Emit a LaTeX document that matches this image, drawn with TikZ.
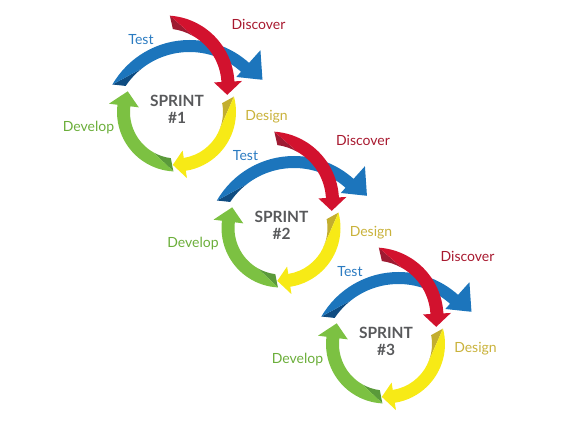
\documentclass[tikz,border=0pt]{standalone}
\usepackage{fontspec}
\setmainfont{Lato}
\usepackage{xcolor}
\usetikzlibrary{positioning}

\definecolor{testblue}{HTML}{1C75BC}
\definecolor{testdark}{HTML}{0F4C81}
\definecolor{discred}{HTML}{D2122E}
\definecolor{discdark}{HTML}{9E1B32}
\definecolor{desyellow}{HTML}{F7EA16}
\definecolor{desdark}{HTML}{C3AE2E}
\definecolor{devgreen}{HTML}{7CC142}
\definecolor{devdark}{HTML}{5A9A3A}
\definecolor{testtext}{HTML}{2B7BC1}
\definecolor{disctext}{HTML}{A8192F}
\definecolor{destext}{HTML}{C9B23B}
\definecolor{devtext}{HTML}{6BAE3A}
\definecolor{sprintgray}{HTML}{58595B}

% ribbon arrow, runs clockwise round the origin
% #1 colour, #2 fold colour, #3 radius, #4 width, #5 tail angle,
% #6 fold angle, #7 head base angle, #8 tip angle, #9 head half width
% \hShift pushes the head outwards
\def\hShift{0}
\newcommand\ribbonarrow[9]{%
  \pgfmathsetmacro\rOut{#3+#4/2}%
  \pgfmathsetmacro\rIn{#3-#4/2}%
  \pgfmathsetmacro\hOut{#3+#9+\hShift}%
  \pgfmathsetmacro\hIn{#3-#9+\hShift}%
  \pgfmathsetmacro\hMid{#3+\hShift}%
  \pgfmathsetmacro\aEnd{#5-4}%
  \fill[#2] (#6:\rIn) arc[start angle=#6, end angle=\aEnd, radius=\rIn] -- (#5:\rOut) -- cycle;
  \fill[#1] (#5:\rOut) arc[start angle=#5, end angle=#7, radius=\rOut]
    -- (#7:\hOut) -- (#8:\hMid) -- (#7:\hIn) -- (#7:\rIn)
    arc[start angle=#7, end angle=#6, radius=\rIn] -- cycle;
}

\begin{document}
\begin{tikzpicture}[x=1pt, y=1pt]
	% Styles
	\tikzstyle{phase} = [inner sep=0pt, font=\fontsize{14}{16}\selectfont]
	\tikzstyle{sprinttext} = [inner sep=0pt, align=center, text=sprintgray, font=\bfseries\fontsize{15.5}{17}\selectfont]

	\useasboundingbox (0,0) rectangle (571,421);

	\foreach \s in {1,2,3} {
		\pgfmathsetmacro\cx{176.5+104.5*(\s-1)}
		\pgfmathsetmacro\cy{309-116*(\s-1)}
		\begin{scope}[shift={(\cx,\cy)}]
			% Arrows
			\ribbonarrow{devgreen}{devdark}{53}{13}{267}{240}{173}{157}{15}
			\ribbonarrow{desyellow}{desdark}{53}{13}{15}{-25}{-81}{-94}{14}
			\begin{scope}[shift={(13,-17)}]
				\def\hShift{5}
				\ribbonarrow{testblue}{testdark}{83}{12}{150}{128}{48}{34}{18}
			\end{scope}
			\begin{scope}[shift={(-11.5,27)}]
				\ribbonarrow{discred}{discdark}{63}{13}{86}{60}{3}{-9}{14}
			\end{scope}

			% Nodes
			\node (sprint\s) [sprinttext] at (0.5,2.5) {SPRINT\\\#\s};
			\node (test\s) [phase, text=testtext] at (-35.5,72) {Test};
			\node (discover\s) [phase, text=disctext] at (82,88) {Discover};
			\node (design\s) [phase, text=destext] at (90,-4.5) {Design};
			\node (develop\s) [phase, text=devtext] at (-88,-16) {Develop};
		\end{scope}
	}
\end{tikzpicture}
\end{document}
